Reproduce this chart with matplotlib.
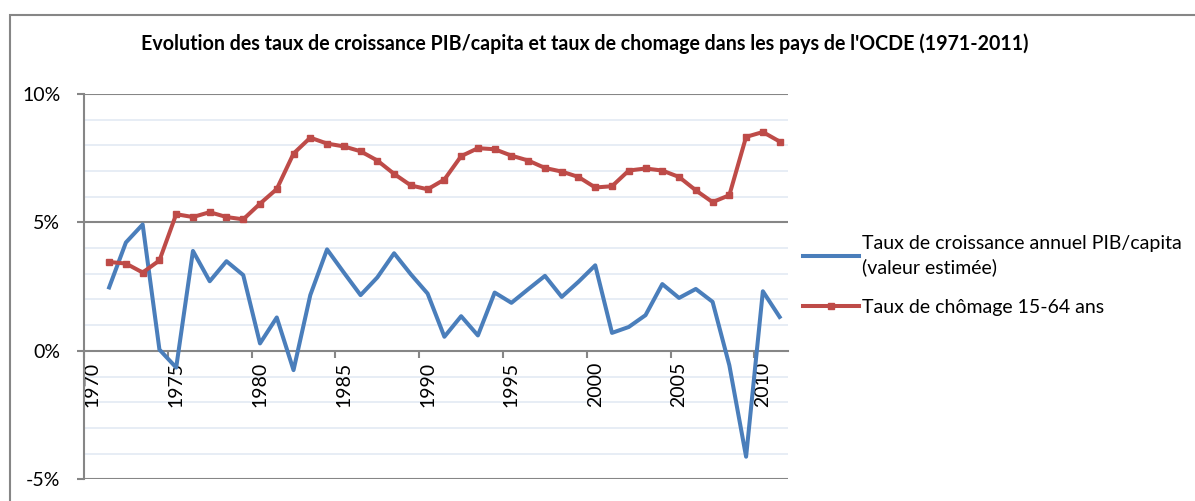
import numpy as np
import matplotlib
matplotlib.use('Agg')
import matplotlib.pyplot as plt
from matplotlib.patches import Rectangle
from matplotlib.ticker import FixedLocator, FuncFormatter

plt.rcParams['font.family'] = ['Lato', 'DejaVu Sans']

# Données (en %)
annees = list(range(1970, 2012))

pib_annees = list(range(1971, 2012))
pib = [2.47, 4.22, 4.92, 0.05, -0.65, 3.89, 2.71, 3.49, 2.95, 0.29,
       1.30, -0.75, 2.17, 3.95, 3.05, 2.17, 2.86, 3.80, 2.98, 2.23,
       0.55, 1.35, 0.60, 2.27, 1.87, 2.40, 2.92, 2.10, 2.69, 3.33,
       0.70, 0.93, 1.39, 2.60, 2.06, 2.41, 1.91, -0.56, -4.12, 2.32,
       1.32]

chom_annees = list(range(1971, 2012))
chomage = [3.46, 3.40, 3.05, 3.52, 5.32, 5.21, 5.40, 5.21, 5.12, 5.73,
           6.30, 7.68, 8.30, 8.07, 7.96, 7.77, 7.41, 6.89, 6.44, 6.29,
           6.67, 7.58, 7.89, 7.85, 7.60, 7.41, 7.12, 6.98, 6.77, 6.36,
           6.41, 7.02, 7.10, 7.02, 6.77, 6.25, 5.79, 6.06, 8.33, 8.52,
           8.15]

titre = "Evolution des taux de croissance PIB/capita et taux de chomage dans les pays de l'OCDE (1971-2011)"
label_pib = "Taux de croissance annuel PIB/capita\n(valeur estimée)"
label_chom = "Taux de chômage 15-64 ans"

bleu = '#4A7EBB'
rouge = '#BE4B48'
gris = '#868686'

fig = plt.figure(figsize=(11.95, 5.01), dpi=100)
ax = fig.add_axes([84 / 1195, (501 - 479.3) / 501, (788 - 84) / 1195, (479.3 - 94) / 501])

# positions des catégories
x_pib = [annees.index(a) for a in pib_annees]
x_chom = [annees.index(a) for a in chom_annees]

ax.plot(x_pib, pib, color=bleu, lw=2.9, label=label_pib, zorder=3)
ax.plot(x_chom, chomage, color=rouge, lw=2.9, marker='s', ms=4.8, label=label_chom, zorder=4)

ax.set_xlim(-0.5, len(annees) - 0.5)
ax.set_ylim(-5, 10)

# grille
for v in range(-5, 11):
    if v % 5 == 0:
        continue
    ax.axhline(v, color='#E3EAF3', lw=1.2, zorder=1)
for v in (-5, 5, 10):
    ax.axhline(v, color=gris, lw=1.5, zorder=2)

# axe y
ax.set_yticks([-5, 0, 5, 10])
ax.yaxis.set_major_formatter(FuncFormatter(lambda v, p: f"{v:.0f}%"))
ax.tick_params(axis='y', length=5, width=1.5, color=gris, labelsize=14, pad=12)

# axe x sur 0%
ax.spines['bottom'].set_position(('data', 0))
ax.spines['bottom'].set_color(gris)
ax.spines['bottom'].set_linewidth(1.5)
ax.spines['bottom'].set_zorder(2)
ax.spines['left'].set_color(gris)
ax.spines['left'].set_linewidth(1.5)
ax.spines['top'].set_visible(False)
ax.spines['right'].set_visible(False)

ax.xaxis.set_major_locator(FixedLocator(np.arange(-0.5, len(annees), 5)))
ax.xaxis.set_major_formatter(FuncFormatter(lambda v, p: ''))
ax.xaxis.set_minor_locator(FixedLocator(np.arange(0, len(annees), 5)))
ax.xaxis.set_minor_formatter(FuncFormatter(lambda v, p: str(annees[int(round(v))])))
ax.tick_params(axis='x', which='major', length=5, width=1.5, color=gris, direction='out')
ax.tick_params(axis='x', which='minor', length=0, labelsize=14, pad=8, labelrotation=90)

fig.text(585 / 1195, 1 - 44 / 501, titre, ha='center', va='center',
         fontsize=14.1, fontweight='bold')

leg = fig.legend(loc='upper left', bbox_to_anchor=(795 / 1195, 1 - 227 / 501),
                 frameon=False, fontsize=14, handlelength=2.9, handletextpad=0.15,
                 labelspacing=1.15, borderaxespad=0, numpoints=1)
for t in leg.get_texts():
    t.set_linespacing(1.45)

# cadre extérieur
fig.patches.append(Rectangle((10 / 1195, -0.1), 1.2, 1 - 15 / 501 + 0.1,
                             transform=fig.transFigure, fill=False,
                             edgecolor=gris, lw=1.5))

fig.savefig('out.png', dpi=100)
